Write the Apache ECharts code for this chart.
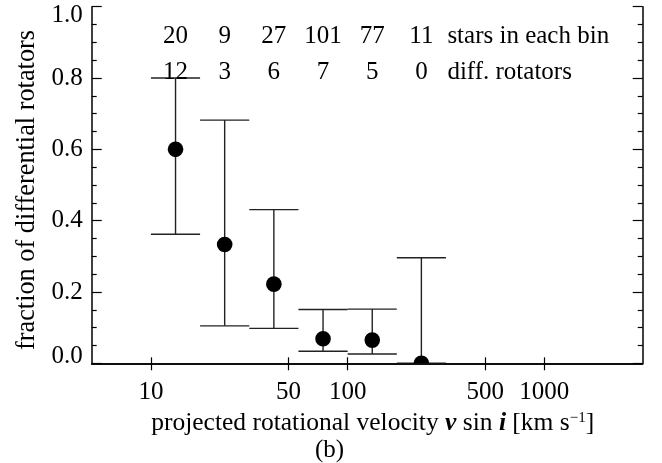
<!DOCTYPE html>
<html>
<head>
<meta charset="utf-8">
<script src="https://cdn.jsdelivr.net/npm/echarts@6/dist/echarts.min.js"></script>
<style>
  html, body { margin: 0; padding: 0; background: #fff; }
  #chart { width: 662px; height: 463px; }
</style>
</head>
<body>
<div id="chart"></div>
<script>
// Velocity bins (0.25 dex wide) in km/s
const binLower = [10, 17.78, 31.62, 56.23, 100, 177.8];
const binUpper = [17.78, 31.62, 56.23, 100, 177.8, 316.2];
const binCenter = [13.34, 23.71, 42.17, 74.99, 133.4, 237.1];
// Counts per bin
const starsInBin = [20, 9, 27, 101, 77, 11];
const diffRotators = [12, 3, 6, 7, 5, 0];
// Fraction of differential rotators and its uncertainty range
const fraction = [0.600, 0.333, 0.222, 0.069, 0.065, 0.000];
const errLow = [0.362, 0.105, 0.098, 0.034, 0.026, 0.000];
const errHigh = [0.800, 0.682, 0.431, 0.151, 0.152, 0.296];
// Axis ticks
const xTickValues = [10, 50, 100, 500, 1000];

const FONT = 'Liberation Serif';
const INK = '#000';

const points = binCenter.map((c, i) => [c, fraction[i], errLow[i], errHigh[i], binLower[i], binUpper[i]]);
const countRows = binCenter.map((c, i) => [c, starsInBin[i], diffRotators[i]]);

const chart = echarts.init(document.getElementById('chart'), null, { renderer: 'canvas' });

const axisLineStyle = { color: INK, width: 1.5 };
const yLabelText = { fontFamily: FONT, fontSize: 25, color: INK };

chart.setOption({
  animation: false,
  backgroundColor: '#fff',
  grid: { left: 91.7, right: 19.3, top: 6.7, bottom: 99.7, containLabel: false },
  xAxis: [
    {
      type: 'log', logBase: 10, min: 5, max: 3162.3, position: 'bottom',
      axisLine: { lineStyle: axisLineStyle },
      axisTick: { inside: true, length: 6, lineStyle: { color: INK, width: 1.2 }, customValues: xTickValues },
      axisLabel: { customValues: xTickValues, fontFamily: FONT, fontSize: 25, color: INK, margin: 17,
                   formatter: v => String(Math.round(v)) },
      minorTick: { show: false }, splitLine: { show: false },
      name: 'projected rotational velocity {bi|v} sin {bi|i} [km s{sup|\u22121}]',
      nameLocation: 'middle', nameGap: 41,
      nameTextStyle: {
        fontFamily: FONT, fontSize: 25.5, color: INK, padding: [0, 0, 0, 11],
        rich: {
          bi: { fontFamily: FONT, fontSize: 25.5, fontWeight: 'bold', fontStyle: 'italic', color: INK },
          sup: { fontFamily: FONT, fontSize: 15, color: INK, verticalAlign: 'top', padding: [0, 0, 10, 0] }
        }
      }
    },
    {
      type: 'log', logBase: 10, min: 5, max: 3162.3, position: 'top',
      axisLine: { lineStyle: axisLineStyle },
      axisTick: { inside: true, length: 7, lineStyle: { color: INK, width: 1.2 }, customValues: xTickValues },
      axisLabel: { show: false, customValues: xTickValues },
      splitLine: { show: false }
    }
  ],
  yAxis: [
    {
      type: 'value', min: 0, max: 1, interval: 0.2, position: 'left',
      axisLine: { show: true, lineStyle: axisLineStyle },
      axisTick: { show: true, inside: true, length: 10, lineStyle: { color: INK, width: 1.2 } },
      minorTick: { show: true, splitNumber: 4, length: 5, lineStyle: { color: INK, width: 1.2 } },
      axisLabel: Object.assign({}, yLabelText, {
        margin: 9,
        // end labels are nudged inside the frame
        formatter: v => v === 0 ? '{lo|0.0}' : (v === 1 ? '{hi|1.0}' : v.toFixed(1)),
        rich: {
          lo: Object.assign({}, yLabelText, { padding: [0, 0, 13, 0] }),
          hi: Object.assign({}, yLabelText, { padding: [18, 0, 0, 0] })
        }
      }),
      splitLine: { show: false },
      name: 'fraction of differential rotators',
      nameLocation: 'middle', nameGap: 52,
      nameTextStyle: { fontFamily: FONT, fontSize: 26.3, color: INK, padding: [0, 0, 0, -10] }
    },
    {
      type: 'value', min: 0, max: 1, interval: 0.2, position: 'right',
      axisLine: { show: true, lineStyle: axisLineStyle },
      axisTick: { show: true, inside: true, length: 10, lineStyle: { color: INK, width: 1.2 } },
      minorTick: { show: true, splitNumber: 4, length: 5, lineStyle: { color: INK, width: 1.2 } },
      axisLabel: { show: false },
      splitLine: { show: false }
    }
  ],
  series: [
    {
      // error bars: vertical whisker plus caps spanning the velocity bin
      type: 'custom', xAxisIndex: 0, yAxisIndex: 0, clip: true,
      data: points,
      renderItem: (params, api) => {
        const x = api.value(0);
        const lo = api.value(2), hi = api.value(3);
        const x0 = api.value(4), x1 = api.value(5);
        const pLo = api.coord([x, lo]), pHi = api.coord([x, hi]);
        const cLoL = api.coord([x0, lo]), cLoR = api.coord([x1, lo]);
        const cHiL = api.coord([x0, hi]), cHiR = api.coord([x1, hi]);
        const st = { stroke: '#222', lineWidth: 1.4, fill: null };
        return {
          type: 'group',
          children: [
            { type: 'line', shape: { x1: pLo[0], y1: pLo[1], x2: pHi[0], y2: pHi[1] }, style: st },
            { type: 'line', shape: { x1: cLoL[0], y1: cLoL[1], x2: cLoR[0], y2: cLoR[1] }, style: st },
            { type: 'line', shape: { x1: cHiL[0], y1: cHiL[1], x2: cHiR[0], y2: cHiR[1] }, style: st }
          ]
        };
      }
    },
    {
      // filled markers for the measured fraction
      type: 'custom', xAxisIndex: 0, yAxisIndex: 0, clip: true,
      data: points,
      renderItem: (params, api) => {
        const p = api.coord([api.value(0), api.value(1)]);
        return { type: 'circle', shape: { cx: p[0], cy: p[1], r: 7.8 }, style: { fill: INK } };
      }
    },
    {
      // counts printed above each bin
      type: 'custom', xAxisIndex: 0, yAxisIndex: 0, clip: false,
      data: countRows,
      renderItem: (params, api) => {
        const c = api.value(0);
        const top = api.coord([c, 0.918]);
        const bot = api.coord([c, 0.815]);
        const ts = { fontFamily: FONT, fontSize: 25, fill: INK, align: 'center', verticalAlign: 'middle' };
        const kids = [
          { type: 'text', x: top[0], y: top[1], style: Object.assign({ text: String(api.value(1)) }, ts) },
          { type: 'text', x: bot[0], y: bot[1], style: Object.assign({ text: String(api.value(2)) }, ts) }
        ];
        if (params.dataIndex === countRows.length - 1) {
          const ls = Object.assign({}, ts, { align: 'left' });
          kids.push({ type: 'text', x: top[0] + 26, y: top[1], style: Object.assign({ text: 'stars in each bin' }, ls) });
          kids.push({ type: 'text', x: bot[0] + 26, y: bot[1], style: Object.assign({ text: 'diff. rotators' }, ls) });
        }
        return { type: 'group', children: kids };
      }
    }
  ],
  graphic: [
    { type: 'text', left: 315, top: 438, style: { text: '(b)', fontFamily: FONT, fontSize: 25, fill: INK } }
  ]
});
</script>
</body>
</html>
